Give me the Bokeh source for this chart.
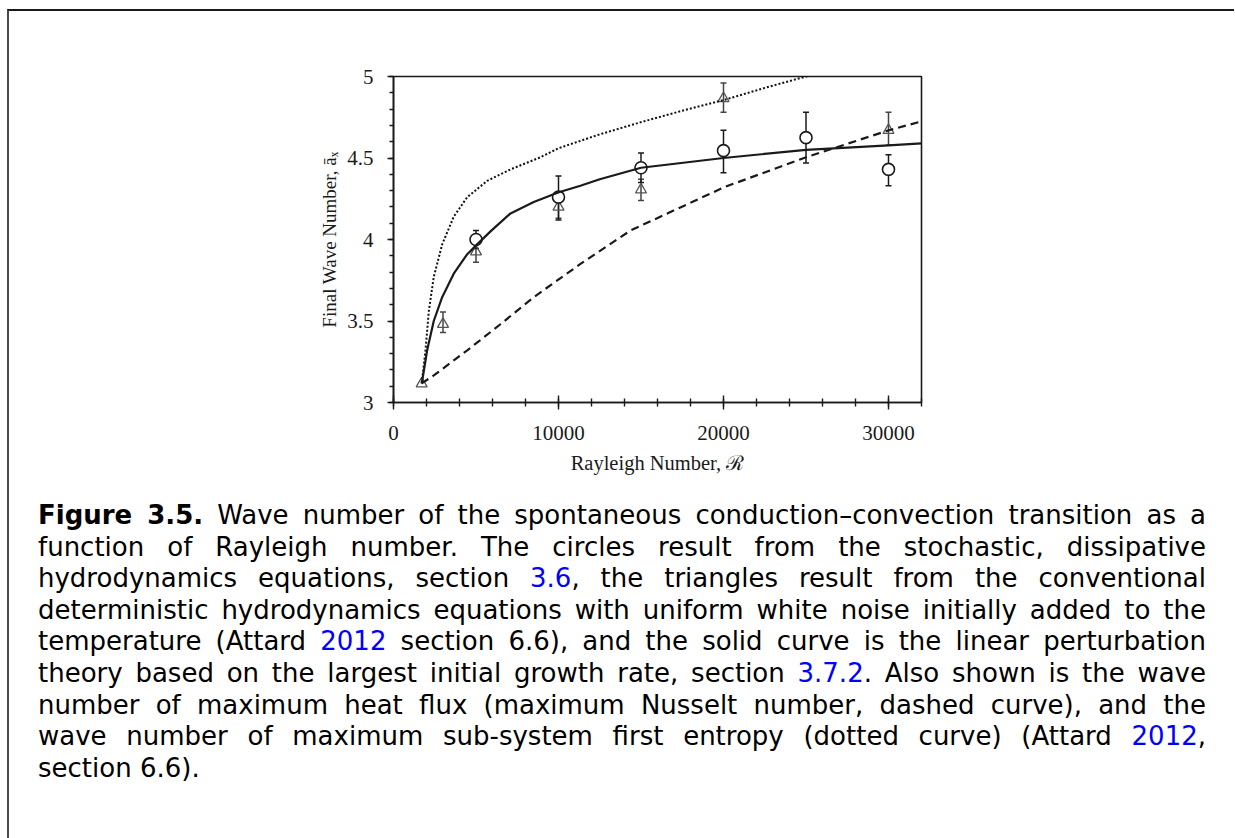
from bokeh.plotting import figure
from bokeh.layouts import column
from bokeh.models import Div, SingleIntervalTicker, CustomJSTickFormatter, Range1d
from bokeh.embed import file_html
from bokeh.resources import INLINE

# ---- data ----
# linear perturbation theory (solid curve)
solid_x = [1708, 1800, 2040, 2440, 2950, 3650, 4470, 5070, 5880, 7090, 8500, 10020, 11330,
           12500, 15000, 20000, 25000, 30000, 32000]
solid_y = [3.117, 3.17, 3.32, 3.50, 3.646, 3.79, 3.91, 3.97, 4.05, 4.16, 4.23, 4.29, 4.33,
           4.37, 4.44, 4.50, 4.55, 4.577, 4.59]
# maximum heat flux (dashed curve)
dash_x = [1708, 2440, 4470, 6480, 8500, 11330, 14360, 20020, 25010, 30020, 32000]
dash_y = [3.117, 3.166, 3.32, 3.48, 3.646, 3.85, 4.055, 4.32, 4.505, 4.67, 4.725]
# maximum sub-system first entropy (dotted curve)
dot_x = [1708, 1940, 2140, 2440, 2950, 3650, 4470, 5680, 7090, 8910, 10000, 12500, 15000,
         17500, 20000, 22500, 25000, 26000]
dot_y = [3.117, 3.32, 3.56, 3.77, 3.97, 4.14, 4.26, 4.36, 4.43, 4.505, 4.56, 4.645, 4.72,
         4.79, 4.855, 4.93, 5.0, 5.025]
# stochastic dissipative hydrodynamics (circles)
circ_x = [5000, 10000, 15000, 20000, 25000, 30000]
circ_y = [4.00, 4.26, 4.44, 4.545, 4.625, 4.43]
circ_lo = [3.945, 4.12, 4.35, 4.41, 4.47, 4.33]
circ_hi = [4.055, 4.39, 4.53, 4.67, 4.78, 4.52]
# deterministic hydrodynamics with white noise (triangles)
tri_x = [1708, 3000, 5000, 10000, 15000, 20000, 30000]
tri_y = [3.115, 3.48, 3.925, 4.20, 4.305, 4.865, 4.67]
tri_lo = [3.115, 3.43, 3.86, 4.13, 4.24, 4.78, 4.58]
tri_hi = [3.115, 3.555, 3.99, 4.27, 4.37, 4.96, 4.78]

x_ticks_interval = 10000
y_ticks_interval = 0.5

p = figure(frame_width=528, frame_height=326,
           x_range=Range1d(0, 32000), y_range=Range1d(3, 5),
           output_backend="svg", toolbar_location=None,
           min_border_left=384, min_border_right=313,
           min_border_top=65, min_border_bottom=93,
           background_fill_color="white", border_fill_color="white")
p.grid.visible = False
p.outline_line_color = "#1a1a1a"
p.outline_line_width = 1.6

p.xaxis.ticker = SingleIntervalTicker(interval=x_ticks_interval, num_minor_ticks=5)
p.yaxis.ticker = SingleIntervalTicker(interval=y_ticks_interval, num_minor_ticks=5)
fmt = "return tick.toString();"
p.xaxis.formatter = CustomJSTickFormatter(code=fmt)
p.yaxis.formatter = CustomJSTickFormatter(code=fmt)

for ax in (p.xaxis[0], p.yaxis[0]):
    ax.axis_line_color = "#1a1a1a"
    ax.axis_line_width = 1.6
    ax.major_tick_line_color = "#1a1a1a"
    ax.minor_tick_line_color = "#1a1a1a"
    ax.major_tick_line_width = 1.4
    ax.minor_tick_line_width = 1.4
    ax.major_label_text_font = "Liberation Serif"
    ax.major_label_text_font_size = "21px"
    ax.major_label_text_color = "#1a1a1a"
    ax.axis_label_text_font = "Liberation Serif"
    ax.axis_label_text_font_style = "normal"
    ax.axis_label_text_color = "#1a1a1a"

p.xaxis.major_tick_in = 7
p.xaxis.major_tick_out = 7
p.xaxis.minor_tick_in = 4
p.xaxis.minor_tick_out = 4
p.xaxis.major_label_standoff = 16
p.xaxis.axis_label = "Rayleigh Number, ℛ"
p.xaxis.axis_label_text_font_size = "20.5px"
p.xaxis.axis_label_standoff = 9

p.yaxis.major_tick_in = 0
p.yaxis.major_tick_out = 6
p.yaxis.minor_tick_in = 0
p.yaxis.minor_tick_out = 4
p.yaxis.major_label_standoff = 14
p.yaxis.axis_label = "Final Wave Number, āₓ"
p.yaxis.axis_label_text_font_size = "19px"
p.yaxis.axis_label_standoff = 4

# error bars
def errbars(xs, lo, hi, color):
    ex = [x for x, l, h in zip(xs, lo, hi) if h > l]
    el = [l for x, l, h in zip(xs, lo, hi) if h > l]
    eh = [h for x, l, h in zip(xs, lo, hi) if h > l]
    p.segment(x0=ex, y0=el, x1=ex, y1=eh, line_color=color, line_width=1.5)
    p.scatter(ex, el, marker="dash", size=6, line_color=color, line_width=1.5)
    p.scatter(ex, eh, marker="dash", size=6, line_color=color, line_width=1.5)

errbars(tri_x, tri_lo, tri_hi, "#444444")
errbars(circ_x, circ_lo, circ_hi, "#1a1a1a")

p.scatter(tri_x, tri_y, marker="triangle", size=11, fill_color=None,
          line_color="#555555", line_width=1.3)
p.scatter(circ_x, circ_y, marker="circle", size=12, fill_color="white",
          line_color="#1a1a1a", line_width=1.6)

p.line(dot_x, dot_y, line_color="#111111", line_width=2.0, line_dash="2 2")
p.line(dash_x, dash_y, line_color="#1a1a1a", line_width=2.2, line_dash="8 5")
p.line(solid_x, solid_y, line_color="#1a1a1a", line_width=2.2)

link = '<span style="color:#0000ff">{}</span>'
lines = [
    '<b>Figure 3.5.</b> Wave number of the spontaneous conduction–convection transition as a',
    'function of Rayleigh number. The circles result from the stochastic, dissipative',
    'hydrodynamics equations, section ' + link.format('3.6') + ', the triangles result from the conventional',
    'deterministic hydrodynamics equations with uniform white noise initially added to the',
    'temperature (Attard ' + link.format('2012') + ' section 6.6), and the solid curve is the linear perturbation',
    'theory based on the largest initial growth rate, section ' + link.format('3.7.2') + '. Also shown is the wave',
    'number of maximum heat flux (maximum Nusselt number, dashed curve), and the',
    'wave number of maximum sub-system first entropy (dotted curve) (Attard ' + link.format('2012') + ',',
]
last = 'section 6.6).'
body = "".join(
    '<div style="text-align:justify;text-align-last:justify;">%s</div>' % l for l in lines)
body += '<div style="text-align:left;">%s</div>' % last
html = ('<div style="margin-left:24px;width:1168px;font-family:\'DejaVu Sans\';'
        'font-size:26px;line-height:31.6px;color:#000;">' + body + '</div>')
caption = Div(text=html, width=1205, height=338)

layout = column(p, caption, spacing=0,
                styles={"border-left": "2px solid #4a4a4a", "border-top": "2px solid #1a1a1a",
                        "margin-top": "9px", "margin-left": "7px"})

open("out.html", "w").write(file_html(layout, INLINE))
